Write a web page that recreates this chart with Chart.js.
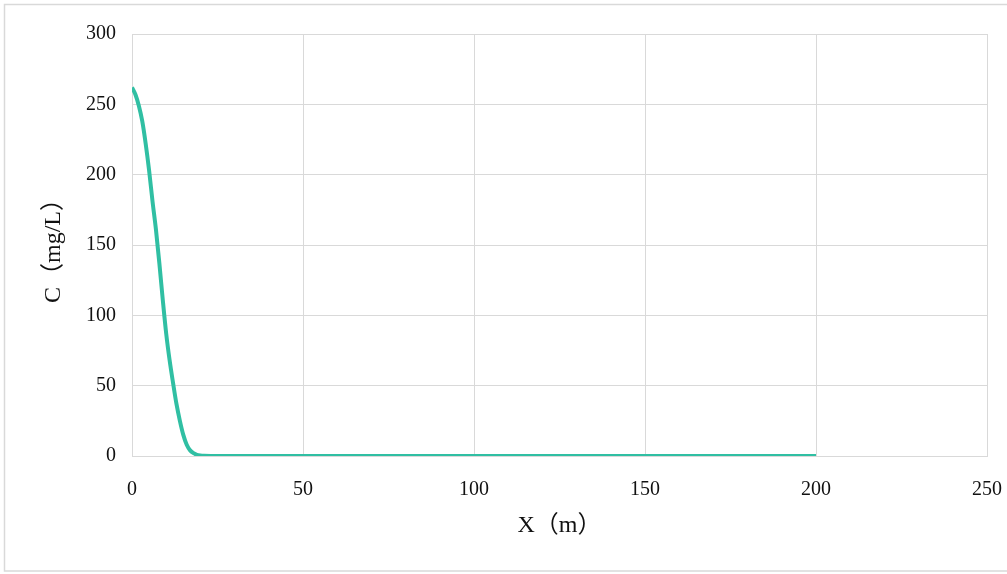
<!DOCTYPE html>
<html>
<head>
<meta charset="utf-8">
<script src="https://cdn.jsdelivr.net/npm/chart.js@4/dist/chart.umd.min.js"></script>
<style>
  html, body { margin: 0; padding: 0; background: #fff; }
  #wrap { position: relative; width: 1007px; height: 574px; }
</style>
</head>
<body>
<div id="wrap"><canvas id="c" width="1007" height="574"></canvas></div>
<script>
// distance along x (m) and concentration
const xValues = [0, 1, 2, 3, 4, 5, 6, 7, 8, 9, 10, 11, 12, 13, 14, 15, 16, 17, 18, 19, 20, 21, 23, 25, 50, 100, 150, 200];
const cValues = [262, 257, 249, 238, 222, 203, 181, 161, 137, 111, 87, 68, 52, 37, 25, 15, 8, 4, 2, 0.8, 0.3, 0.1, 0, 0, 0, 0, 0, 0];

const xTicks = [0, 50, 100, 150, 200, 250];
const yTicks = [0, 50, 100, 150, 200, 250, 300];

const points = xValues.map((x, i) => ({ x: x, y: cValues[i] }));

const serif = "'Liberation Serif', 'Times New Roman', 'Noto Sans CJK SC', serif";
const gridColor = '#d9d9d9';

// light frame round the whole picture
const framePlugin = {
  id: 'frame',
  beforeDraw(chart) {
    const ctx = chart.ctx;
    ctx.save();
    ctx.strokeStyle = gridColor;
    ctx.lineWidth = 1.5;
    ctx.strokeRect(4.5, 4.5, 1020, 566.5);
    ctx.restore();
  }
};

new Chart(document.getElementById('c'), {
  type: 'scatter',
  data: {
    datasets: [{
      data: points,
      showLine: true,
      borderColor: '#30bfa3',
      borderWidth: 4,
      pointRadius: 0,
      cubicInterpolationMode: 'monotone',
      fill: false
    }]
  },
  options: {
    responsive: false,
    animation: false,
    layout: { padding: { left: 0, top: 34, right: 20, bottom: 0 } },
    plugins: { legend: { display: false }, tooltip: { enabled: false } },
    scales: {
      x: {
        type: 'linear',
        min: 0,
        max: 250,
        afterBuildTicks: (axis) => { axis.ticks = xTicks.map(v => ({ value: v })); },
        afterFit: (axis) => { axis.height = 118; axis.paddingRight = 0; axis.paddingLeft = 0; },
        grid: { color: gridColor, lineWidth: 1, drawTicks: false },
        border: { color: gridColor, width: 1 },
        ticks: { padding: 22, color: '#111', font: { family: serif, size: 20 } },
        title: {
          display: true,
          text: 'X（m）',
          color: '#111',
          font: { family: serif, size: 24 },
          padding: { top: 0, bottom: 34 }
        }
      },
      y: {
        min: 0,
        max: 300,
        afterBuildTicks: (axis) => { axis.ticks = yTicks.map(v => ({ value: v })); },
        afterFit: (axis) => { axis.width = 132; },
        grid: { color: gridColor, lineWidth: 1, drawTicks: false },
        border: { color: gridColor, width: 1 },
        ticks: { padding: 16, color: '#111', font: { family: serif, size: 20 } },
        title: {
          display: true,
          text: 'C（mg/L）',
          color: '#111',
          font: { family: serif, size: 24 },
          padding: { top: 39, bottom: 0 }
        }
      }
    }
  },
  plugins: [framePlugin]
});
</script>
</body>
</html>
